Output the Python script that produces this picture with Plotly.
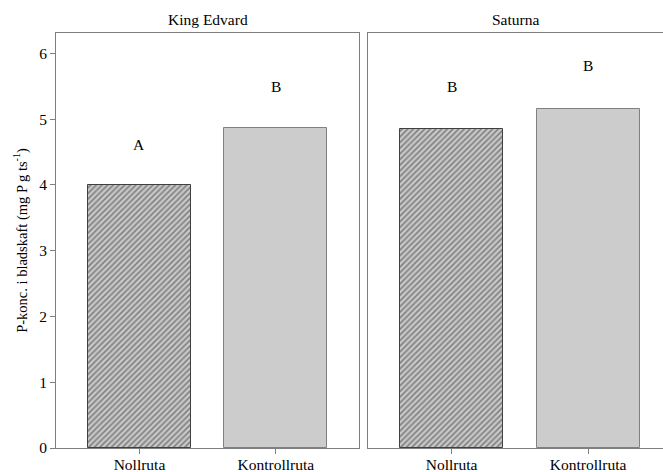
import plotly.graph_objects as go

categories = ["Nollruta", "Kontrollruta"]
panels = ["King Edvard", "Saturna"]
values_king = [4.0, 4.87]
values_saturna = [4.85, 5.16]
letters_king = ["A", "B"]
letters_saturna = ["B", "B"]
letter_y_king = [4.62, 5.49]
letter_y_saturna = [5.49, 5.81]
yticks = [0, 1, 2, 3, 4, 5, 6]

FONT = "Liberation Serif, Times New Roman, serif"
LINE = "#7f7f7f"
FS = 15.5

fig = go.Figure()

def add_panel(vals, xa, ya):
    fig.add_trace(go.Bar(
        x=[categories[0]], y=[vals[0]], xaxis=xa, yaxis=ya, width=0.755,
        marker=dict(color="#c8c8c8",
                    pattern=dict(shape="/", fgcolor="#383838", bgcolor="#c8c8c8", size=4, solidity=0.4),
                    line=dict(color="#404040", width=1)),
        showlegend=False, hoverinfo="skip"))
    fig.add_trace(go.Bar(
        x=[categories[1]], y=[vals[1]], xaxis=xa, yaxis=ya, width=0.755,
        marker=dict(color="#cccccc", line=dict(color="#808080", width=1)),
        showlegend=False, hoverinfo="skip"))

add_panel(values_king, "x", "y")
add_panel(values_saturna, "x2", "y2")

for i, c in enumerate(categories):
    fig.add_annotation(x=c, y=letter_y_king[i], xref="x", yref="y", text=letters_king[i],
                       showarrow=False, font=dict(family=FONT, size=FS, color="black"))
    fig.add_annotation(x=c, y=letter_y_saturna[i], xref="x2", yref="y2", text=letters_saturna[i],
                       showarrow=False, font=dict(family=FONT, size=FS, color="black"))

fig.add_annotation(x=0.5, y=1.0, xref="x domain", yref="paper", yanchor="middle", yshift=14,
                   text=panels[0], showarrow=False, font=dict(family=FONT, size=FS, color="black"))
fig.add_annotation(x=0.5, y=1.0, xref="x2 domain", yref="paper", yanchor="middle", yshift=14,
                   text=panels[1], showarrow=False, font=dict(family=FONT, size=FS, color="black"))

axis_common = dict(showgrid=False, zeroline=False, linecolor=LINE, linewidth=1,
                   ticks="outside", ticklen=5, tickcolor=LINE, automargin=False,
                   tickfont=dict(family=FONT, size=FS, color="black"))

fig.update_layout(
    width=663, height=472,
    margin=dict(l=56, r=0, t=33, b=24),
    plot_bgcolor="white", paper_bgcolor="white",
    bargap=0,
    font=dict(family=FONT, color="black"),
    xaxis=dict(domain=[0, 0.4992], range=[-0.612, 1.61], type="category",
               categoryorder="array", categoryarray=categories,
               showline=True, mirror=True, anchor="y", ticklabelstandoff=-3, **axis_common),
    xaxis2=dict(domain=[0.514, 1], range=[-0.612, 1.549], type="category",
                categoryorder="array", categoryarray=categories,
                showline=True, mirror=True, anchor="y2", ticklabelstandoff=-3, **axis_common),
    yaxis=dict(domain=[0, 1], range=[0, 6.31], tickvals=yticks, showline=True, mirror=True,
               anchor="x",
               title=dict(text="P-konc. i bladskaft (mg P g ts<sup>-1</sup>)", standoff=8,
                          font=dict(family=FONT, size=14.5, color="black")),
               **axis_common),
    yaxis2=dict(domain=[0, 1], range=[0, 6.31], showline=True, mirror=False, anchor="x2",
                showticklabels=False, showgrid=False, zeroline=False, linecolor=LINE,
                linewidth=1, ticks="", automargin=False),
)

fig.write_html("out.html", config={"displayModeBar": False},
               post_script="document.body.style.margin='0';document.body.style.overflow='hidden';")
